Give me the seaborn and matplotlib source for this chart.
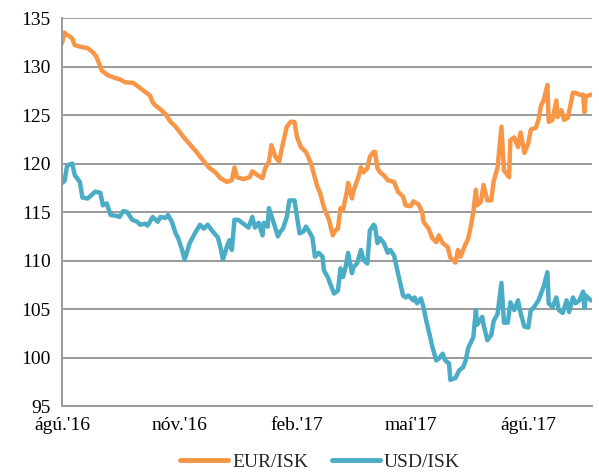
import pandas as pd
import matplotlib.pyplot as plt
import seaborn as sns

# days after 1 Aug 2016 and exchange rates
eur_days = [0, 2, 3, 5, 8, 10, 13, 16, 20, 24, 27, 30, 31, 34, 36, 42, 45, 49, 56, 60,
            63, 66, 69, 71, 73, 77, 81, 85, 89, 93, 96, 100, 104, 107, 110, 115, 120, 124, 129, 133,
            135, 137, 142, 147, 149, 153, 157, 159, 162, 164, 167, 170, 173, 176, 179, 182, 184, 187, 191, 195,
            197, 200, 202, 205, 209, 212, 214, 216, 218, 220, 223, 224, 227, 228, 232, 234, 236, 239, 241, 244,
            245, 247, 249, 252, 255, 260, 263, 267, 269, 273, 275, 279, 282, 283, 287, 290, 293, 295, 298, 302,
            304, 308, 310, 312, 315, 318, 320, 322, 324, 325, 328, 330, 333, 336, 338, 341, 344, 346, 350, 351,
            354, 357, 359, 362, 365, 367, 371, 373, 375, 377, 380, 381, 384, 387, 388, 391, 393, 396, 400, 402,
            405, 408, 409, 410, 414]
eur_vals = [132.4, 133.5, 133.3, 133.2, 132.9, 132.2, 132.1, 132.0, 131.9, 131.5, 131.0, 130.0, 129.6, 129.3, 129.1, 128.8, 128.7, 128.4, 128.3, 127.9,
            127.6, 127.3, 127.0, 126.3, 126.0, 125.6, 125.1, 124.3, 123.8, 123.1, 122.6, 122.0, 121.4, 120.9, 120.4, 119.6, 119.1, 118.5, 118.1, 118.3,
            119.6, 118.6, 118.4, 118.6, 119.2, 118.8, 118.5, 119.5, 120.2, 121.9, 120.7, 120.2, 122.1, 123.8, 124.3, 124.3, 122.7, 121.7, 121.2, 120.0,
            119.0, 117.6, 117.0, 115.5, 114.2, 112.6, 113.1, 113.3, 115.4, 115.2, 117.1, 118.0, 116.4, 117.1, 118.6, 119.6, 119.1, 119.5, 120.7, 121.2,
            121.2, 119.5, 119.1, 118.8, 118.3, 118.1, 117.1, 116.6, 115.7, 115.6, 116.1, 115.8, 115.0, 114.0, 113.3, 112.3, 111.9, 112.6, 111.8, 111.4,
            110.3, 109.8, 111.1, 110.4, 111.4, 112.3, 113.5, 115.0, 117.3, 115.7, 116.1, 117.8, 116.2, 116.2, 118.2, 119.6, 123.8, 119.3, 118.6, 122.4,
            122.7, 121.7, 123.2, 121.1, 122.1, 123.5, 123.7, 124.5, 126.0, 126.5, 128.1, 124.3, 124.5, 126.5, 124.8, 125.5, 124.5, 124.7, 127.3, 127.3,
            127.1, 127.1, 125.3, 126.9, 127.1]

usd_days = [0, 2, 4, 8, 10, 14, 16, 20, 26, 30, 32, 35, 38, 43, 45, 48, 51, 55, 59, 61,
            65, 67, 71, 75, 77, 81, 83, 86, 89, 91, 94, 96, 100, 104, 108, 111, 114, 118, 122, 124,
            126, 129, 131, 133, 135, 138, 141, 146, 149, 151, 154, 157, 158, 161, 162, 165, 169, 171, 173, 176,
            178, 182, 184, 186, 189, 191, 193, 196, 198, 201, 204, 205, 208, 210, 213, 216, 218, 220, 222, 224,
            227, 228, 231, 234, 236, 239, 241, 244, 245, 247, 249, 252, 255, 257, 260, 263, 267, 269, 271, 275,
            276, 278, 281, 283, 285, 287, 290, 293, 295, 298, 300, 303, 304, 308, 311, 314, 316, 318, 322, 324,
            325, 329, 330, 333, 336, 338, 341, 344, 346, 349, 351, 354, 357, 359, 362, 365, 367, 369, 373, 375,
            377, 380, 381, 384, 387, 389, 392, 395, 397, 400, 402, 405, 408, 409, 410, 414]
usd_vals = [118.0, 118.2, 119.8, 120.0, 118.8, 118.1, 116.5, 116.4, 117.1, 117.0, 115.7, 115.9, 114.7, 114.6, 114.5, 115.1, 115.0, 114.2, 114.0, 113.7,
            113.8, 113.6, 114.5, 114.0, 114.5, 114.4, 114.7, 114.0, 112.8, 112.3, 111.1, 110.1, 111.8, 112.8, 113.7, 113.3, 113.7, 113.0, 112.4, 111.4,
            110.1, 111.4, 112.1, 111.1, 114.2, 114.2, 113.9, 113.4, 114.5, 113.4, 113.9, 112.6, 113.9, 113.5, 115.4, 114.2, 112.5, 113.0, 113.3, 114.5,
            116.2, 116.2, 114.5, 112.8, 113.0, 113.5, 113.1, 112.4, 110.4, 110.8, 110.4, 109.0, 108.3, 107.6, 106.6, 106.9, 109.2, 108.3, 109.3, 110.8,
            108.7, 109.3, 109.7, 111.1, 110.1, 109.7, 113.1, 113.7, 113.5, 111.8, 112.3, 111.8, 110.8, 111.1, 110.5, 108.7, 106.4, 106.2, 106.4, 105.9,
            106.2, 105.6, 106.1, 105.2, 103.9, 102.8, 101.1, 99.7, 99.9, 100.4, 99.7, 99.4, 97.7, 97.9, 98.7, 99.0, 99.7, 101.0, 102.1, 104.9,
            103.4, 104.2, 103.4, 101.8, 102.3, 103.8, 104.5, 107.7, 103.6, 103.6, 105.7, 104.9, 105.9, 104.6, 103.2, 103.1, 104.9, 105.1, 105.9, 106.6,
            107.3, 108.8, 105.6, 105.2, 106.2, 104.9, 104.6, 105.9, 104.7, 106.2, 105.6, 105.9, 106.8, 105.1, 106.4, 105.9]

series_names = ["EUR/ISK", "USD/ISK"]
colors = ["#F79646", "#4BACC6"]
tick_dates = ["2016-08-01", "2016-11-01", "2017-02-01", "2017-05-01", "2017-08-01"]
tick_labels = ["ágú.'16", "nóv.'16", "feb.'17", "maí'17", "ágú.'17"]

start = pd.Timestamp("2016-08-01")
df = pd.concat([
    pd.DataFrame({"date": start + pd.to_timedelta(eur_days, unit="D"), "rate": eur_vals, "series": series_names[0]}),
    pd.DataFrame({"date": start + pd.to_timedelta(usd_days, unit="D"), "rate": usd_vals, "series": series_names[1]}),
])

sns.set_style("white")
plt.rcParams["font.family"] = ["Liberation Serif", "DejaVu Serif"]

fig = plt.figure(figsize=(5.99, 4.75), dpi=100)
ax = fig.add_axes([0.1035, 0.145, 0.885, 0.817])

sns.lineplot(data=df, x="date", y="rate", hue="series", palette=colors,
             estimator=None, linewidth=3.2, ax=ax, legend=True)
for line in ax.get_lines():
    line.set_solid_capstyle("round")
    line.set_solid_joinstyle("round")

ax.set_ylim(95, 135)
ax.set_yticks(range(95, 136, 5))
ax.set_xlim(start, pd.Timestamp("2017-09-20"))
ax.set_xticks(pd.to_datetime(tick_dates))
ax.set_xticklabels(tick_labels)
ax.set_xlabel("")
ax.set_ylabel("")

ax.yaxis.grid(True, color="#9a9a9a", linewidth=1.4)
ax.set_axisbelow(True)
for side in ["top", "right"]:
    ax.spines[side].set_visible(False)
for side in ["left", "bottom"]:
    ax.spines[side].set_color("#9a9a9a")
    ax.spines[side].set_linewidth(1.4)
ax.tick_params(axis="both", colors="#9a9a9a", width=1.4, length=5, labelsize=14,
               labelcolor="black", direction="out")
ax.tick_params(axis="y", pad=3)
ax.tick_params(axis="x", pad=3)

handles, labels = ax.get_legend_handles_labels()
ax.get_legend().remove()
for h in handles:
    h.set_linewidth(3.5)
    h.set_solid_capstyle("round")
fig.legend(handles, labels, loc="center", bbox_to_anchor=(0.534, 0.027), ncol=2,
           frameon=False, fontsize=14, handlelength=2.5, handletextpad=0.2,
           columnspacing=1.2)

fig.savefig("out.png", dpi=100)
